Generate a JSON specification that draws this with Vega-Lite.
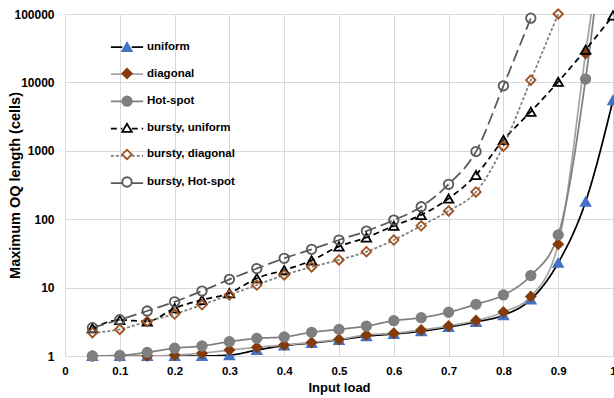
{
  "$schema": "https://vega.github.io/schema/vega-lite/v6.json",
  "width": 548,
  "height": 342,
  "autosize": {"type": "none"},
  "padding": {"left": 65, "top": 14, "right": 1, "bottom": 42},
  "background": "white",
  "config": {"view": {"stroke": null}, "font": "Liberation Sans"},
  "data": {"values": [
    {"load":0.05,"series":"uniform","len":1.0},{"load":0.1,"series":"uniform","len":1.0},{"load":0.15,"series":"uniform","len":1.0},{"load":0.2,"series":"uniform","len":1.0},{"load":0.25,"series":"uniform","len":1.0},{"load":0.3,"series":"uniform","len":1.03},{"load":0.35,"series":"uniform","len":1.22},{"load":0.4,"series":"uniform","len":1.42},{"load":0.45,"series":"uniform","len":1.55},{"load":0.5,"series":"uniform","len":1.72},{"load":0.55,"series":"uniform","len":1.95},{"load":0.6,"series":"uniform","len":2.1},{"load":0.65,"series":"uniform","len":2.3},{"load":0.7,"series":"uniform","len":2.65},{"load":0.75,"series":"uniform","len":3.15},{"load":0.8,"series":"uniform","len":3.95},{"load":0.85,"series":"uniform","len":6.7},{"load":0.9,"series":"uniform","len":23},{"load":0.95,"series":"uniform","len":180},{"load":1.0,"series":"uniform","len":5500},
    {"load":0.05,"series":"diagonal","len":1.0},{"load":0.1,"series":"diagonal","len":1.0},{"load":0.15,"series":"diagonal","len":1.0},{"load":0.2,"series":"diagonal","len":1.03},{"load":0.25,"series":"diagonal","len":1.1},{"load":0.3,"series":"diagonal","len":1.22},{"load":0.35,"series":"diagonal","len":1.34},{"load":0.4,"series":"diagonal","len":1.45},{"load":0.45,"series":"diagonal","len":1.58},{"load":0.5,"series":"diagonal","len":1.75},{"load":0.55,"series":"diagonal","len":2.03},{"load":0.6,"series":"diagonal","len":2.15},{"load":0.65,"series":"diagonal","len":2.4},{"load":0.7,"series":"diagonal","len":2.75},{"load":0.75,"series":"diagonal","len":3.3},{"load":0.8,"series":"diagonal","len":4.4},{"load":0.85,"series":"diagonal","len":7.4},{"load":0.9,"series":"diagonal","len":43},{"load":0.95,"series":"diagonal","len":26500},{"load":1.0,"series":"diagonal","len":20000000},
    {"load":0.05,"series":"Hot-spot","len":1.0},{"load":0.1,"series":"Hot-spot","len":1.02},{"load":0.15,"series":"Hot-spot","len":1.13},{"load":0.2,"series":"Hot-spot","len":1.3},{"load":0.25,"series":"Hot-spot","len":1.4},{"load":0.3,"series":"Hot-spot","len":1.62},{"load":0.35,"series":"Hot-spot","len":1.81},{"load":0.4,"series":"Hot-spot","len":1.9},{"load":0.45,"series":"Hot-spot","len":2.22},{"load":0.5,"series":"Hot-spot","len":2.45},{"load":0.55,"series":"Hot-spot","len":2.74},{"load":0.6,"series":"Hot-spot","len":3.28},{"load":0.65,"series":"Hot-spot","len":3.63},{"load":0.7,"series":"Hot-spot","len":4.36},{"load":0.75,"series":"Hot-spot","len":5.7},{"load":0.8,"series":"Hot-spot","len":7.8},{"load":0.85,"series":"Hot-spot","len":15},{"load":0.9,"series":"Hot-spot","len":59},{"load":0.95,"series":"Hot-spot","len":11200},{"load":1.0,"series":"Hot-spot","len":30000000},
    {"load":0.05,"series":"bursty, uniform","len":2.54},{"load":0.1,"series":"bursty, uniform","len":3.36},{"load":0.15,"series":"bursty, uniform","len":3.2},{"load":0.2,"series":"bursty, uniform","len":5.0},{"load":0.25,"series":"bursty, uniform","len":6.6},{"load":0.3,"series":"bursty, uniform","len":8.3},{"load":0.35,"series":"bursty, uniform","len":13.7},{"load":0.4,"series":"bursty, uniform","len":18},{"load":0.45,"series":"bursty, uniform","len":25},{"load":0.5,"series":"bursty, uniform","len":40},{"load":0.55,"series":"bursty, uniform","len":54},{"load":0.6,"series":"bursty, uniform","len":80},{"load":0.65,"series":"bursty, uniform","len":115},{"load":0.7,"series":"bursty, uniform","len":200},{"load":0.75,"series":"bursty, uniform","len":443},{"load":0.8,"series":"bursty, uniform","len":1440},{"load":0.85,"series":"bursty, uniform","len":3730},{"load":0.9,"series":"bursty, uniform","len":10200},{"load":0.95,"series":"bursty, uniform","len":30000},{"load":1.0,"series":"bursty, uniform","len":95000},
    {"load":0.05,"series":"bursty, diagonal","len":2.19},{"load":0.1,"series":"bursty, diagonal","len":2.45},{"load":0.15,"series":"bursty, diagonal","len":3.2},{"load":0.2,"series":"bursty, diagonal","len":4.1},{"load":0.25,"series":"bursty, diagonal","len":5.6},{"load":0.3,"series":"bursty, diagonal","len":7.8},{"load":0.35,"series":"bursty, diagonal","len":10.9},{"load":0.4,"series":"bursty, diagonal","len":15.3},{"load":0.45,"series":"bursty, diagonal","len":20},{"load":0.5,"series":"bursty, diagonal","len":25.4},{"load":0.55,"series":"bursty, diagonal","len":33.5},{"load":0.6,"series":"bursty, diagonal","len":49.6},{"load":0.65,"series":"bursty, diagonal","len":80},{"load":0.7,"series":"bursty, diagonal","len":132},{"load":0.75,"series":"bursty, diagonal","len":250},{"load":0.8,"series":"bursty, diagonal","len":1170},{"load":0.85,"series":"bursty, diagonal","len":10800},{"load":0.9,"series":"bursty, diagonal","len":100000},
    {"load":0.05,"series":"bursty, Hot-spot","len":2.6},{"load":0.1,"series":"bursty, Hot-spot","len":3.4},{"load":0.15,"series":"bursty, Hot-spot","len":4.55},{"load":0.2,"series":"bursty, Hot-spot","len":6.2},{"load":0.25,"series":"bursty, Hot-spot","len":8.9},{"load":0.3,"series":"bursty, Hot-spot","len":13.2},{"load":0.35,"series":"bursty, Hot-spot","len":19},{"load":0.4,"series":"bursty, Hot-spot","len":26.8},{"load":0.45,"series":"bursty, Hot-spot","len":36.3},{"load":0.5,"series":"bursty, Hot-spot","len":49.6},{"load":0.55,"series":"bursty, Hot-spot","len":67},{"load":0.6,"series":"bursty, Hot-spot","len":97},{"load":0.65,"series":"bursty, Hot-spot","len":152},{"load":0.7,"series":"bursty, Hot-spot","len":324},{"load":0.75,"series":"bursty, Hot-spot","len":975},{"load":0.8,"series":"bursty, Hot-spot","len":8900},{"load":0.85,"series":"bursty, Hot-spot","len":87000}
  ]},
  "encoding": {
    "x": {"field": "load", "type": "quantitative",
      "scale": {"domain": [0, 1], "nice": false, "zero": false},
      "axis": {"title": "Input load", "values": [0,0.1,0.2,0.3,0.4,0.5,0.6,0.7,0.8,0.9,1], "format": "~g",
        "grid": true, "gridColor": "#d9d9d9", "gridWidth": 1, "domain": false, "ticks": false, "tickSize": 0,
        "labelFont": "Liberation Sans", "labelFontSize": 11.5, "labelFontWeight": "bold", "labelColor": "#000000", "labelPadding": 9, "labelFlush": false, "labelOverlap": false,
        "titleFont": "Liberation Sans", "titleFontSize": 13, "titleFontWeight": "bold", "titleColor": "#000000", "titlePadding": 5}},
    "y": {"field": "len", "type": "quantitative",
      "scale": {"type": "log", "domain": [1, 100000], "nice": false},
      "axis": {"title": "Maximum OQ length (cells)", "values": [1,10,100,1000,10000,100000], "format": "d",
        "grid": true, "gridColor": "#d9d9d9", "gridWidth": 1, "domain": false, "ticks": false, "tickSize": 0,
        "labelFont": "Liberation Sans", "labelFontSize": 12, "labelFontWeight": "bold", "labelColor": "#000000", "labelPadding": 11, "labelFlush": false, "labelOverlap": false,
        "titleFont": "Liberation Sans", "titleFontSize": 14.5, "titleFontWeight": "bold", "titleColor": "#000000", "titlePadding": -9}}
  },
  "layer": [
    {
      "mark": {"type": "line", "interpolate": "monotone", "strokeWidth": 1.75, "clip": true},
      "encoding": {
        "stroke": {"field": "series", "type": "nominal", "sort": null,
          "scale": {"range": ["#000000","#a5a5a5","#7f7f7f","#000000","#7f7f7f","#595959"]},
          "legend": {"orient": "none", "legendX": 56, "legendY": 27, "title": null, "padding": 0,
            "symbolType": "M-3.4,0H-1M1,0H3.4", "symbolSize": 90, "symbolStrokeWidth": 1.75,
            "labelFont": "Liberation Sans", "labelFontSize": 11.5, "labelFontWeight": "bold", "labelColor": "transparent",
            "labelOffset": 14, "rowPadding": 15.2}},
        "strokeDash": {"field": "series", "type": "nominal", "sort": null,
          "scale": {"range": [[1,0],[1,0],[1,0],[6,4],[3,2],[12,5]]},
          "legend": {"orient": "none", "legendX": 56, "legendY": 27, "title": null, "padding": 0,
            "symbolType": "M-3.4,0H-1M1,0H3.4", "symbolSize": 90, "symbolStrokeWidth": 1.75,
            "labelFont": "Liberation Sans", "labelFontSize": 11.5, "labelFontWeight": "bold", "labelColor": "transparent",
            "labelOffset": 14, "rowPadding": 15.2}}
      }
    },
    {
      "mark": {"type": "point", "filled": false, "size": 90, "strokeWidth": 1.8, "opacity": 1},
      "encoding": {
        "color": {"field": "series", "type": "nominal",
          "scale": {"domain": ["uniform","diagonal","Hot-spot","bursty, uniform","bursty, diagonal","bursty, Hot-spot"],
                    "range": ["#4472c4","#843c0c","#7f7f7f","#000000","#a0521e","#595959"]},
          "legend": {"orient": "none", "legendX": 56, "legendY": 27, "title": null, "padding": 0,
            "symbolSize": 90, "symbolStrokeWidth": 1.8, "symbolOpacity": 1,
            "labelFont": "Liberation Sans", "labelFontSize": 11.5, "labelFontWeight": "bold", "labelColor": "#000000",
            "labelOffset": 14, "rowPadding": 9.6}},
        "fill": {"field": "series", "type": "nominal",
          "scale": {"domain": ["uniform","diagonal","Hot-spot","bursty, uniform","bursty, diagonal","bursty, Hot-spot"],
                    "range": ["#4472c4","#843c0c","#7f7f7f","transparent","transparent","transparent"]},
          "legend": {"orient": "none", "legendX": 56, "legendY": 27, "title": null, "padding": 0,
            "symbolSize": 90, "symbolStrokeWidth": 1.8, "symbolOpacity": 1,
            "labelFont": "Liberation Sans", "labelFontSize": 11.5, "labelFontWeight": "bold", "labelColor": "#000000",
            "labelOffset": 14, "rowPadding": 9.6}},
        "shape": {"field": "series", "type": "nominal",
          "scale": {"domain": ["uniform","diagonal","Hot-spot","bursty, uniform","bursty, diagonal","bursty, Hot-spot"],
                    "range": ["triangle-up","diamond","circle","triangle-up","diamond","circle"]},
          "legend": {"orient": "none", "legendX": 56, "legendY": 27, "title": null, "padding": 0,
            "symbolSize": 90, "symbolStrokeWidth": 1.8, "symbolOpacity": 1,
            "labelFont": "Liberation Sans", "labelFontSize": 11.5, "labelFontWeight": "bold", "labelColor": "#000000",
            "labelOffset": 14, "rowPadding": 9.6}}
      }
    }
  ]
}
